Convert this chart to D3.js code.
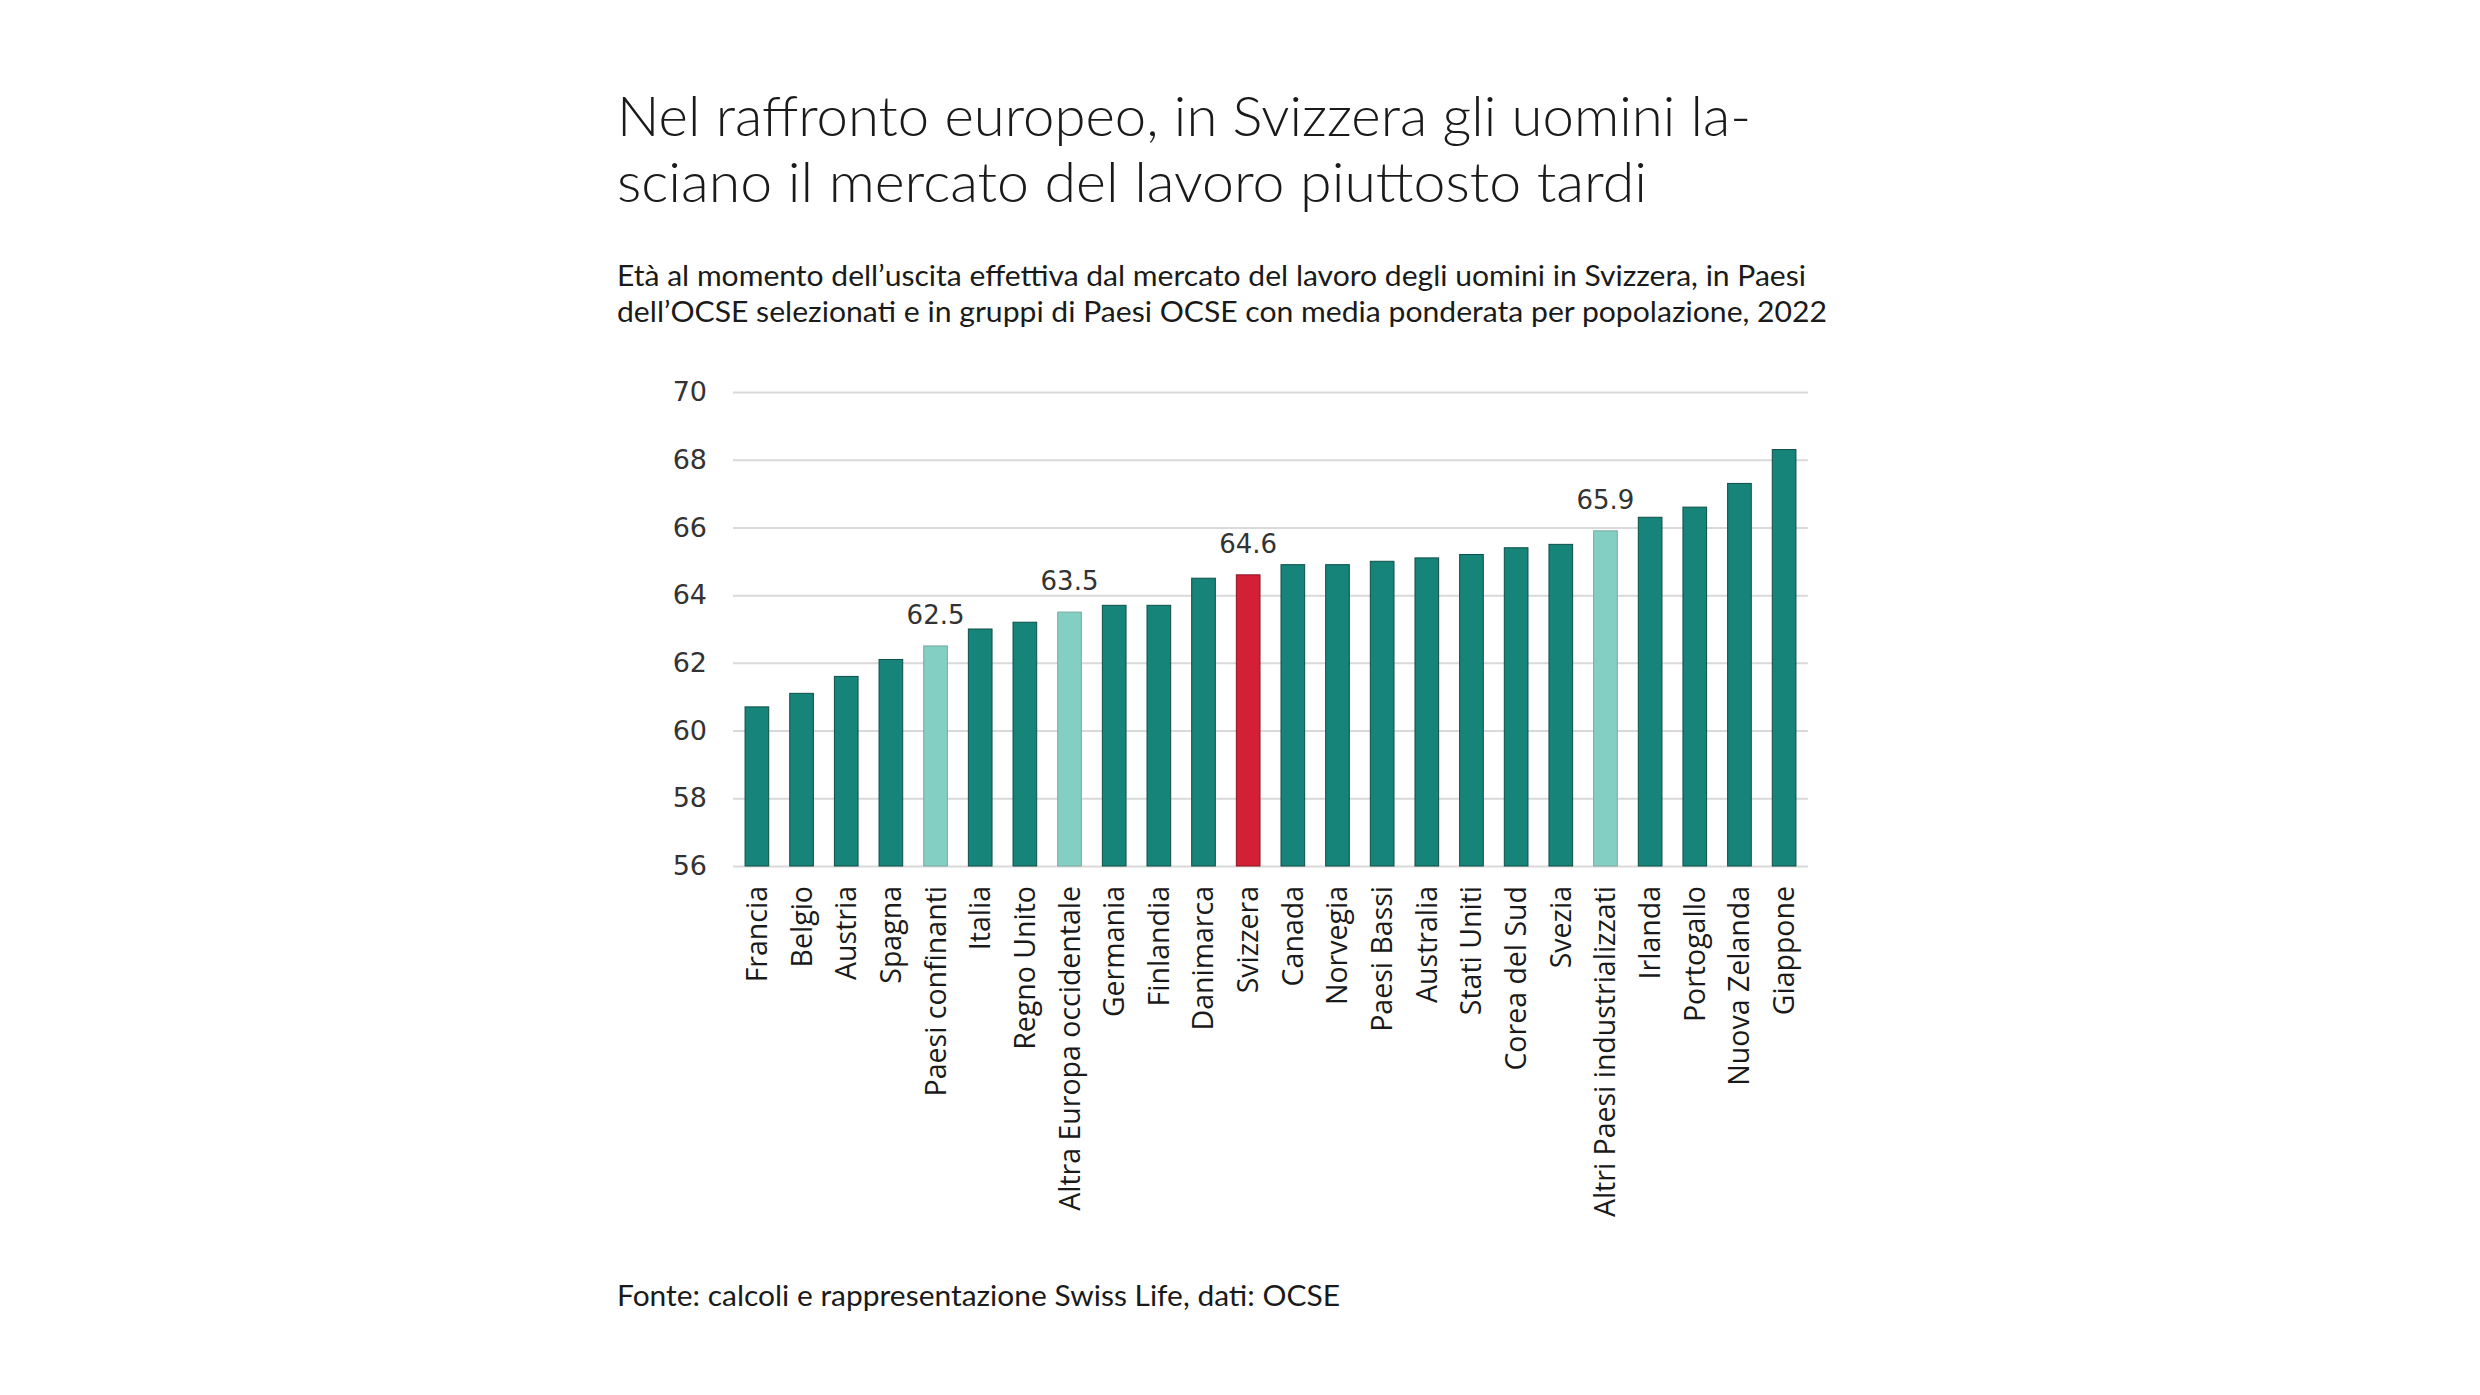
<!DOCTYPE html>
<html>
<head>
<meta charset="utf-8">
<script src="https://cdn.jsdelivr.net/npm/d3@7"></script>
<style>
  body { margin: 0; background: #fff; }
  text { fill: #1a1a1a; }
  .tick line { stroke: #d9d9d9; stroke-width: 2; }
</style>
</head>
<body>
<div id="chart"></div>
<script>
// data
const categories = ["Francia", "Belgio", "Austria", "Spagna", "Paesi confinanti", "Italia",
  "Regno Unito", "Altra Europa occidentale", "Germania", "Finlandia", "Danimarca", "Svizzera",
  "Canada", "Norvegia", "Paesi Bassi", "Australia", "Stati Uniti", "Corea del Sud", "Svezia",
  "Altri Paesi industrializzati", "Irlanda", "Portogallo", "Nuova Zelanda", "Giappone"];
const values = [60.7, 61.1, 61.6, 62.1, 62.5, 63.0, 63.2, 63.5, 63.7, 63.7, 64.5, 64.6,
  64.9, 64.9, 65.0, 65.1, 65.2, 65.4, 65.5, 65.9, 66.3, 66.6, 67.3, 68.3];
const groups = ["Paesi confinanti", "Altra Europa occidentale", "Altri Paesi industrializzati"];
const home = "Svizzera";
const yTicks = [56, 58, 60, 62, 64, 66, 68, 70];

const titleLines = ["Nel raffronto europeo, in Svizzera gli uomini la-",
  "sciano il mercato del lavoro piuttosto tardi"];
const subtitleLines = ["Età al momento dell’uscita effettiva dal mercato del lavoro degli uomini in Svizzera, in Paesi",
  "dell’OCSE selezionati e in gruppi di Paesi OCSE con media ponderata per popolazione, 2022"];
const source = "Fonte: calcoli e rappresentazione Swiss Life, dati: OCSE";

const width = 2480, height = 1395;
const plot = { left: 733, right: 1808, top: 392, bottom: 866 };

const svg = d3.select("#chart")
  .append("svg")
  .attr("width", width)
  .attr("height", height);

svg.append("rect").attr("width", width).attr("height", height).attr("fill", "#fff");

// title + subtitle
const titleWidths = [1134, 1030];
svg.selectAll(".title")
  .data(titleLines)
  .join("text")
  .attr("class", "title")
  .attr("x", 617)
  .attr("y", (d, i) => 136 + i * 66)
  .attr("textLength", (d, i) => titleWidths[i])
  .attr("lengthAdjust", "spacingAndGlyphs")
  .style("font-family", "Lato, 'Open Sans', sans-serif")
  .style("font-weight", 300)
  .style("font-size", "56px")
  .text(d => d);

const subWidths = [1189, 1210];
svg.selectAll(".subtitle")
  .data(subtitleLines)
  .join("text")
  .attr("class", "subtitle")
  .attr("x", 617)
  .attr("y", (d, i) => 286 + i * 36)
  .attr("textLength", (d, i) => subWidths[i])
  .attr("lengthAdjust", "spacingAndGlyphs")
  .style("font-family", "Lato, 'Open Sans', sans-serif")
  .style("font-size", "28px")
  .text(d => d);

let x = d3.scaleBand()
  .domain(categories)
  .range([plot.left, plot.right])
  .paddingInner(0.47)
  .paddingOuter(0.27);

let y = d3.scaleLinear()
  .domain([56, 70])
  .range([plot.bottom, plot.top]);

// gridlines + y labels
const yAxis = svg.append("g")
  .attr("transform", `translate(${plot.left},0)`)
  .call(d3.axisLeft(y).tickValues(yTicks).tickSize(-(plot.right - plot.left)).tickPadding(26));
yAxis.select(".domain").remove();
yAxis.selectAll("text")
  .style("font-family", "'DejaVu Sans', sans-serif")
  .style("font-size", "27px")
  .style("fill", "#333");

// bars
const colour = d => d === home ? "#d42035" : groups.includes(d) ? "#83cfc4" : "#168479";
const edge = d => d === home ? "#8c1522" : groups.includes(d) ? "#7aa9a2" : "#0e4e48";

svg.append("g")
  .selectAll("rect")
  .data(categories)
  .join("rect")
  .attr("x", d => x(d))
  .attr("y", (d, i) => y(values[i]))
  .attr("width", x.bandwidth())
  .attr("height", (d, i) => y(56) - y(values[i]))
  .attr("fill", colour)
  .attr("stroke", edge)
  .attr("stroke-width", 1);

// value labels on the highlighted bars
svg.append("g")
  .selectAll("text")
  .data(categories.filter(d => d === home || groups.includes(d)))
  .join("text")
  .attr("x", d => x(d) + x.bandwidth() / 2)
  .attr("y", d => y(values[categories.indexOf(d)]) - 22)
  .attr("text-anchor", "middle")
  .style("font-family", "'DejaVu Sans', sans-serif")
  .style("font-size", "26px")
  .style("fill", "#333")
  .text(d => values[categories.indexOf(d)].toFixed(1));

// category labels
const xAxis = svg.append("g")
  .attr("transform", `translate(0,${plot.bottom})`)
  .call(d3.axisBottom(x).tickSize(0));
xAxis.select(".domain").remove();
xAxis.selectAll("text")
  .attr("transform", "rotate(-90)")
  .attr("x", -20)
  .attr("y", 0)
  .attr("dy", "0.35em")
  .style("text-anchor", "end")
  .style("font-family", "'Open Sans', sans-serif")
  .style("font-size", "28.5px")
  .style("fill", "#1a1a1a");

// source
svg.append("text")
  .attr("x", 617)
  .attr("y", 1306)
  .attr("textLength", 723)
  .attr("lengthAdjust", "spacingAndGlyphs")
  .style("font-family", "Lato, 'Open Sans', sans-serif")
  .style("font-size", "28px")
  .text(source);
</script>
</body>
</html>
